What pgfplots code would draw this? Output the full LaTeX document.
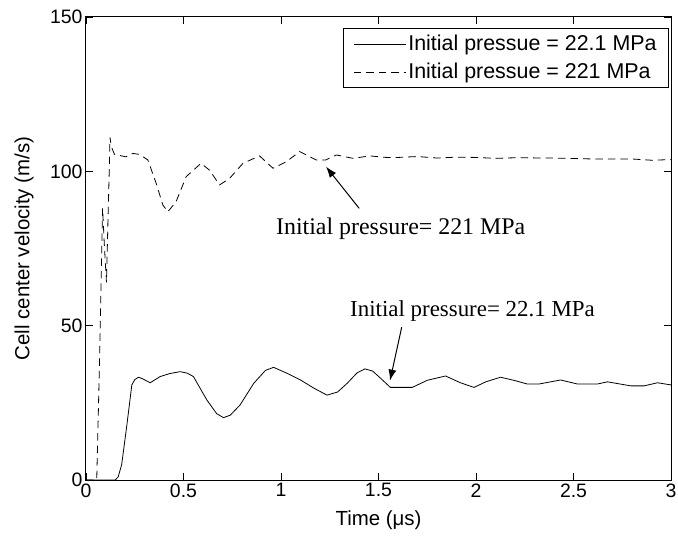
\documentclass[border=0pt]{standalone}
\usepackage{pgfplots}
\pgfplotsset{compat=1.18}
\usetikzlibrary{arrows.meta}
\usepackage{fontspec}
\setmainfont{Liberation Sans}
\newfontfamily\annfont{Liberation Serif}
\begin{document}
\begin{tikzpicture}
\begin{axis}[
  scale only axis, width=585bp, height=463bp,
  xmin=0, xmax=3, ymin=0, ymax=150,
  xtick={0,0.5,1,1.5,2,2.5,3}, ytick={0,50,100,150},
  tick align=inside, xtick pos=both, ytick pos=both,
  major tick length=7bp,
  tick style={black, line width=0.8bp},
  axis line style={black, line width=1bp},
  ticklabel style={font=\fontsize{19.5}{22}\selectfont},
  /pgf/number format/assume math mode=true,
  xlabel={Time (μs)}, ylabel={Cell center velocity (m/s)},
  label style={font=\fontsize{20.5}{24}\selectfont},
  x label style={at={(axis description cs:0.5,-0.0864)}, anchor=center},
  y label style={at={(axis description cs:-0.106,0.5)}, anchor=center},
  legend style={at={(axis description cs:0.9966,0.9762)}, anchor=north east,
    draw=black, line width=0.8bp, font=\fontsize{21.5}{25}\selectfont,
    row sep=7bp, inner xsep=10bp, inner ysep=5bp},
  legend cell align=left,
  legend image code/.code={\draw[#1] (0bp,0bp) -- (52bp,0bp);},
]
\addplot[black, line width=0.8bp] coordinates {
(0,0) (0.15,0) (0.165,1) (0.183,5) (0.21,18) (0.235,30.8) (0.25,32.5) (0.269,33.3) (0.29,32.8) (0.329,31.5) (0.38,33.5) (0.43,34.5) (0.483,35.1) (0.52,34.6) (0.551,33.5) (0.62,25.9) (0.67,21.5) (0.705,20.2) (0.74,21) (0.79,24.3) (0.86,31.3) (0.92,35.5) (0.962,36.5) (1.03,34.6) (1.1,32.4) (1.17,29.7) (1.236,27.5) (1.29,28.5) (1.339,31.3) (1.39,34.7) (1.43,36) (1.47,35.3) (1.51,33) (1.561,30) (1.673,30) (1.75,32.3) (1.844,33.7) (1.92,31.5) (1.99,30) (2.05,31.8) (2.126,33.3) (2.2,32.2) (2.263,31.1) (2.323,31.1) (2.434,32.4) (2.52,31.1) (2.623,31.1) (2.674,31.8) (2.794,30.5) (2.862,30.5) (2.931,31.5) (3,30.8)
};
\addlegendentry{Initial pressue = 22.1 MPa}
\addplot[black, line width=0.8bp, dash pattern=on 7.5bp off 5bp] coordinates {
(0,0) (0.055,0) (0.07,40) (0.085,88) (0.095,75) (0.105,64) (0.113,85) (0.12,102) (0.123,111) (0.13,108) (0.146,105.5) (0.205,104.7) (0.24,105.8) (0.274,105.5) (0.317,103.7) (0.36,96.1) (0.394,89.1) (0.42,86.9) (0.462,90.2) (0.514,98.3) (0.59,102.6) (0.633,100.4) (0.685,95.6) (0.736,97.7) (0.805,102.6) (0.89,105) (0.959,101) (1.027,103.1) (1.096,106.4) (1.18,103.7) (1.23,103.7) (1.284,105.3) (1.37,104.2) (1.455,105) (1.54,104.5) (1.6,104.5) (1.7,104.8) (1.8,104.3) (1.9,104.6) (2.0,104.5) (2.1,104.2) (2.2,104.4) (2.4,104.3) (2.6,104) (2.8,104) (2.9,103.6) (3,103.8)
};
\addlegendentry{Initial pressue = 221 MPa}
\node[anchor=base west, inner sep=0pt, font=\annfont\fontsize{24}{28}\selectfont] at (axis cs:0.974,79.5) {Initial pressure= 221 MPa};
\node[anchor=base west, inner sep=0pt, font=\annfont\fontsize{23}{27}\selectfont] at (axis cs:1.354,52.9) {Initial pressure= 22.1 MPa};
\draw[line width=1bp, -{Latex[length=11bp,width=8bp]}] (axis cs:1.401,88.0) -- (axis cs:1.231,101.5);
\draw[line width=1bp, -{Latex[length=11bp,width=8bp]}] (axis cs:1.619,49.5) -- (axis cs:1.559,32.2);
\end{axis}
\pgfresetboundingbox
\path (current axis.south west) ++(-86bp,-59bp) rectangle ++(678bp,539bp);
\end{tikzpicture}
\end{document}
